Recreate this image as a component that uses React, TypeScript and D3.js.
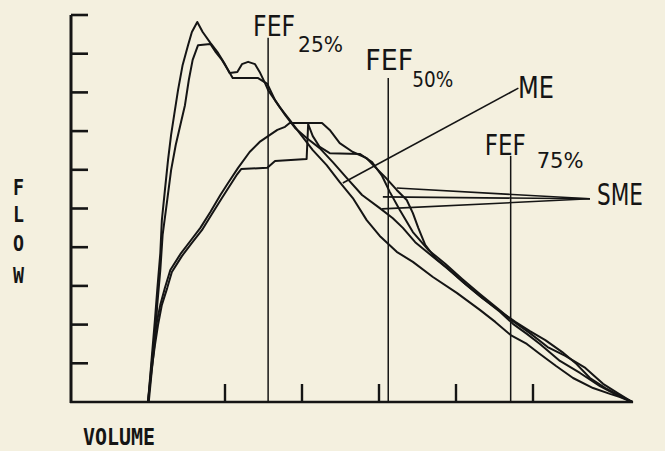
import React from "react";
import * as d3 from "d3";

// flow-volume loops, expiratory limb only (volume in L, flow in L/s)
const volumeTicks = [1, 2, 3, 4, 5];
const flowTicks = [1, 2, 3, 4, 5, 6, 7, 8, 9, 10];

const fefNames = ["25%", "50%", "75%"];
const fefVolume = [1.56, 3.12, 4.71];
const fefTopFlow = [9.41, 8.37, 6.36];

// fast curve, tall peak
const volumeA = [0, 0.03, 0.06, 0.09, 0.12, 0.16, 0.18, 0.22, 0.26, 0.3, 0.34, 0.39, 0.45, 0.52, 0.57, 0.64, 0.71, 0.81, 0.91, 0.99, 1.06, 1.16, 1.22, 1.3, 1.39, 1.45, 1.52, 1.56, 1.71, 1.84, 1.97, 2.14, 2.32, 2.49, 2.66, 2.84, 3.01, 3.23, 3.44, 3.7, 4.01, 4.31, 4.51, 4.71, 4.92, 5.09, 5.3, 5.52, 5.78, 6.0, 6.13, 6.29];
const flowA = [0, 0.7, 1.42, 2.12, 2.89, 3.85, 4.7, 5.48, 6.25, 6.9, 7.42, 8.06, 8.71, 9.22, 9.56, 9.82, 9.56, 9.28, 9.02, 8.76, 8.5, 8.53, 8.73, 8.79, 8.73, 8.53, 8.24, 8.06, 7.62, 7.29, 6.95, 6.51, 6.12, 5.68, 5.27, 4.7, 4.29, 3.88, 3.62, 3.23, 2.82, 2.38, 2.07, 1.73, 1.5, 1.24, 0.93, 0.62, 0.36, 0.21, 0.13, 0];

// fast curve, second peak
const volumeB = [0.01, 0.05, 0.09, 0.12, 0.16, 0.19, 0.25, 0.3, 0.36, 0.43, 0.48, 0.53, 0.58, 0.65, 0.81, 0.88, 0.96, 1.04, 1.1, 1.43, 1.55, 1.65, 1.78, 1.91, 2.06, 2.23, 2.4, 2.58, 2.78, 3.01, 3.18, 3.31, 3.47, 3.66, 3.88, 4.09, 4.31, 4.57, 4.74, 4.92, 5.09, 5.35, 5.61, 5.87, 6.06, 6.29];
const flowB = [0, 0.83, 1.6, 2.51, 3.41, 4.32, 5.22, 5.99, 6.64, 7.24, 7.67, 8.32, 8.84, 9.22, 9.25, 9.04, 8.84, 8.58, 8.37, 8.37, 8.22, 7.8, 7.42, 7.08, 6.82, 6.56, 6.2, 5.79, 5.35, 5.01, 4.75, 4.5, 4.13, 3.82, 3.46, 3.1, 2.74, 2.33, 2.02, 1.76, 1.5, 1.06, 0.75, 0.41, 0.21, 0];

// slow curve, upper plateau
const volumeC = [0, 0.04, 0.08, 0.12, 0.16, 0.22, 0.29, 0.42, 0.55, 0.68, 0.81, 0.94, 1.04, 1.17, 1.32, 1.45, 1.56, 1.68, 1.78, 1.84, 2.26, 2.36, 2.49, 2.66, 2.84, 2.95, 3.08, 3.23, 3.36, 3.44, 3.51, 3.6, 3.73, 3.92, 4.12, 4.34, 4.57, 4.77, 4.96, 5.16, 5.38, 5.55, 5.74, 5.94, 6.13, 6.29];
const flowC = [0, 0.83, 1.6, 2.12, 2.51, 2.95, 3.41, 3.82, 4.16, 4.5, 4.91, 5.35, 5.66, 6.05, 6.46, 6.72, 6.87, 7.03, 7.11, 7.21, 7.21, 7.03, 6.69, 6.46, 6.3, 6.07, 5.81, 5.48, 5.22, 4.88, 4.5, 4.06, 3.72, 3.41, 3.05, 2.69, 2.35, 2.07, 1.83, 1.6, 1.29, 1.01, 0.62, 0.36, 0.16, 0];

// slow curve, lower shoulder
const volumeD = [0, 0.05, 0.09, 0.13, 0.18, 0.25, 0.31, 0.44, 0.57, 0.7, 0.83, 0.96, 1.06, 1.16, 1.21, 1.55, 1.65, 2.06, 2.08, 2.14, 2.23, 2.36, 2.75, 2.91, 3.04, 3.14, 3.27, 3.44, 3.64, 3.86, 4.08, 4.31, 4.55, 4.74, 4.96, 5.19, 5.42, 5.68, 5.91, 6.1, 6.29];
const flowD = [0, 0.88, 1.47, 1.99, 2.51, 2.95, 3.36, 3.77, 4.11, 4.44, 4.86, 5.27, 5.58, 5.89, 6.02, 6.05, 6.23, 6.28, 7.18, 6.87, 6.59, 6.43, 6.41, 6.2, 5.84, 5.43, 4.96, 4.39, 3.93, 3.57, 3.18, 2.79, 2.4, 2.09, 1.78, 1.42, 1.19, 0.88, 0.47, 0.23, 0];

// leader lines of the two annotations
const meFrom = [4.81, 8.11];
const meTo = [2.53, 5.66];
const smeTo = [5.74, 5.25];
const smeFromVolume = [3.23, 3.05, 3.04];
const smeFromFlow = [5.53, 5.3, 4.99];

const W = 665;
const H = 451;
const ink = "#151515";

const x = d3.scaleLinear().domain([0, 5]).range([148, 533]);
const y = d3.scaleLinear().domain([0, 10]).range([402, 15]);

const line = d3
  .line<[number, number]>()
  .x((d) => x(d[0]))
  .y((d) => y(d[1]));

const zipPts = (vs: number[], fs: number[]) =>
  vs.map((v, i) => [v, fs[i]] as [number, number]);

const curves = [
  zipPts(volumeA, flowA),
  zipPts(volumeB, flowB),
  zipPts(volumeC, flowC),
  zipPts(volumeD, flowD),
];

// text placement around each FEF line
const fefLayout = [
  { dx: -15, base: 36, w: 42, sdx: 30, sbase: 52, sw: 45 },
  { dx: -23, base: 70, w: 48, sdx: 24, sbase: 87, sw: 41 },
  { dx: -26, base: 155, w: 41, sdx: 26, sbase: 168, sw: 47 },
];

const flowLetters = ["F", "L", "O", "W"];
const flowLetterBase = [195, 222, 251, 283];

export default function App() {
  const axisLeft = x(-1);
  const axisRight = x(6.3);
  return (
    <svg
      width={W}
      height={H}
      style={{ position: "absolute", left: 0, top: 0, background: "#f4f0df" }}
    >
      <rect width={W} height={H} fill="#f4f0df" />

      {/* axes */}
      <line x1={axisLeft} x2={axisLeft} y1={y(10)} y2={y(0) + 1} stroke={ink} strokeWidth={3} />
      <line x1={axisLeft - 1} x2={axisRight} y1={y(0)} y2={y(0)} stroke={ink} strokeWidth={2.6} />
      {flowTicks.map((t) => (
        <line key={"yt" + t} x1={axisLeft} x2={axisLeft + 17} y1={y(t)} y2={y(t)} stroke={ink} strokeWidth={2.6} />
      ))}
      {volumeTicks.map((t) => (
        <line key={"xt" + t} x1={x(t)} x2={x(t)} y1={y(0)} y2={y(0) - 18} stroke={ink} strokeWidth={2.4} />
      ))}

      {/* FEF markers */}
      {fefVolume.map((v, i) => {
        const lx = x(v);
        const L = fefLayout[i];
        return (
          <g key={"fef" + i}>
            <line x1={lx} x2={lx} y1={y(fefTopFlow[i])} y2={y(0)} stroke={ink} strokeWidth={1.5} />
            <text
              x={lx + L.dx}
              y={L.base}
              fontFamily="DejaVu Sans"
              fontSize={29}
              textLength={L.w}
              lengthAdjust="spacingAndGlyphs"
              fill={ink}
            >
              FEF
            </text>
            <text
              x={lx + L.sdx}
              y={L.sbase}
              fontFamily="DejaVu Sans"
              fontSize={21}
              textLength={L.sw}
              lengthAdjust="spacingAndGlyphs"
              fill={ink}
            >
              {fefNames[i]}
            </text>
          </g>
        );
      })}

      {/* traces */}
      {curves.map((c, i) => (
        <path key={"c" + i} d={line(c) ?? ""} fill="none" stroke={ink} strokeWidth={2} strokeLinejoin="round" />
      ))}

      {/* annotations */}
      <line x1={x(meFrom[0])} y1={y(meFrom[1])} x2={x(meTo[0])} y2={y(meTo[1])} stroke={ink} strokeWidth={1.6} />
      <text x={518} y={98} fontFamily="DejaVu Sans" fontSize={31} textLength={36} lengthAdjust="spacingAndGlyphs" fill={ink}>
        ME
      </text>
      {smeFromVolume.map((v, i) => (
        <line
          key={"sme" + i}
          x1={x(v)}
          y1={y(smeFromFlow[i])}
          x2={x(smeTo[0])}
          y2={y(smeTo[1])}
          stroke={ink}
          strokeWidth={1.6}
        />
      ))}
      <text x={597} y={205} fontFamily="DejaVu Sans" fontSize={30} textLength={46} lengthAdjust="spacingAndGlyphs" fill={ink}>
        SME
      </text>

      {/* axis titles */}
      {flowLetters.map((ch, i) => (
        <text
          key={"fl" + i}
          x={13}
          y={flowLetterBase[i]}
          fontFamily="DejaVu Sans Mono"
          fontWeight="bold"
          fontSize={21}
          textLength={11}
          lengthAdjust="spacingAndGlyphs"
          fill={ink}
        >
          {ch}
        </text>
      ))}
      <text
        x={83}
        y={445}
        fontFamily="DejaVu Sans Mono"
        fontWeight="bold"
        fontSize={23}
        textLength={72}
        lengthAdjust="spacingAndGlyphs"
        fill={ink}
      >
        VOLUME
      </text>
    </svg>
  );
}
